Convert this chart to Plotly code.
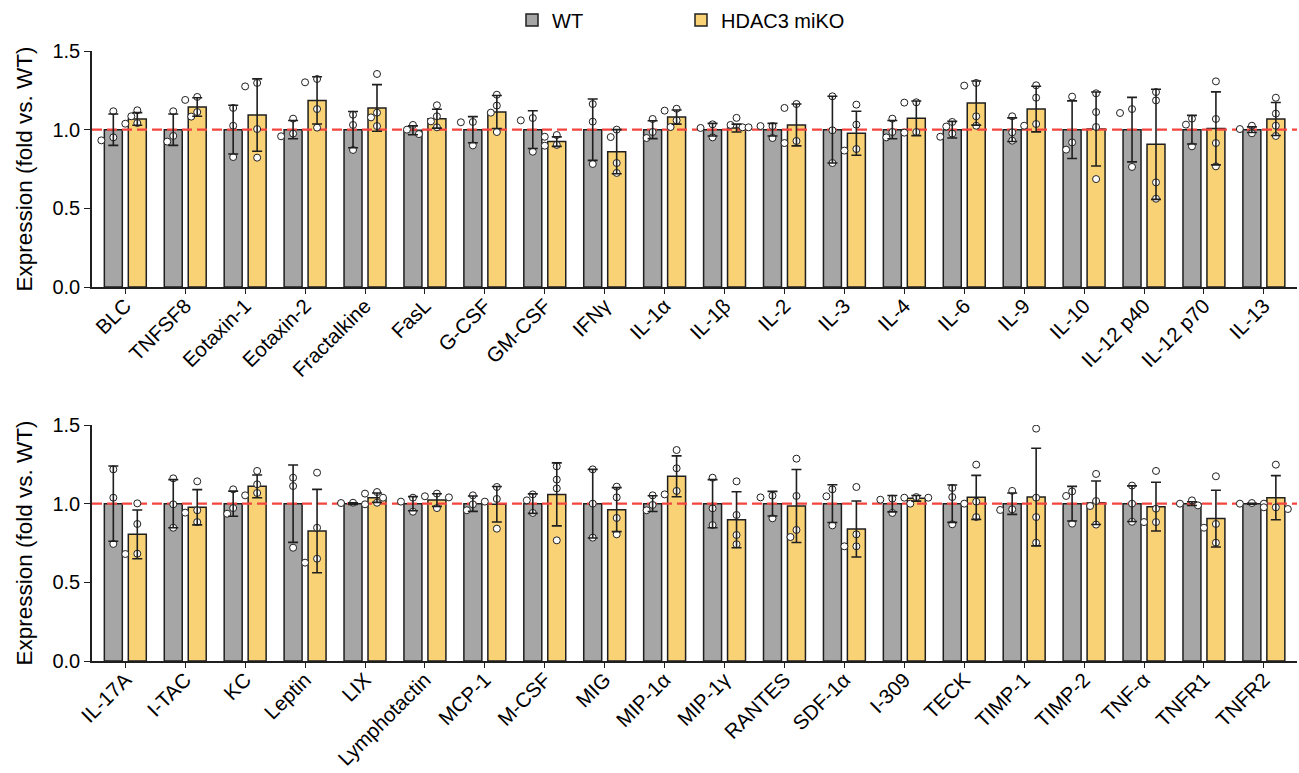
import plotly.graph_objects as go

# ---------------- data ----------------
cats_top = ["BLC", "TNFSF8", "Eotaxin-1", "Eotaxin-2", "Fractalkine", "FasL", "G-CSF", "GM-CSF",
            "IFNγ", "IL-1α", "IL-1β", "IL-2", "IL-3", "IL-4", "IL-6", "IL-9", "IL-10",
            "IL-12 p40", "IL-12 p70", "IL-13"]
wt_mean_top = [1.0, 1.0, 1.0, 1.0, 1.0, 0.996, 1.0, 1.0, 1.0, 1.0, 1.0, 1.0, 1.0, 1.0, 1.0, 1.0, 1.0, 1.0, 1.0, 1.0]
wt_sd_top = [0.10, 0.10, 0.155, 0.058, 0.115, 0.028, 0.083, 0.12, 0.195, 0.057, 0.04, 0.04, 0.212, 0.058, 0.053,
             0.075, 0.183, 0.205, 0.091, 0.018]
ko_mean_top = [1.068, 1.144, 1.093, 1.186, 1.138, 1.07, 1.112, 0.924, 0.86, 1.08, 1.01, 1.03, 0.977, 1.072, 1.169,
               1.131, 1.004, 0.907, 1.008, 1.068]
ko_sd_top = [0.04, 0.059, 0.23, 0.15, 0.148, 0.06, 0.105, 0.03, 0.14, 0.045, 0.025, 0.133, 0.14, 0.11, 0.14,
             0.145, 0.235, 0.35, 0.232, 0.105]
wt_pts_top = [[1.117, 0.932, 0.951], [1.117, 0.924, 0.96], [1.138, 1.025, 0.826], [1.07, 0.958, 0.975],
              [1.095, 1.03, 0.871], [1.03, 0.972, 1.0], [1.049, 1.047, 0.9], [1.074, 1.059, 0.86],
              [1.163, 1.051, 0.782], [1.068, 0.947, 0.985], [1.034, 1.011, 0.951], [1.023, 1.023, 0.947],
              [1.212, 0.996, 0.788], [1.07, 0.951, 0.985], [1.049, 1.02, 0.975, 0.955], [1.085, 0.983, 0.93],
              [1.21, 0.919, 0.873], [1.131, 1.106, 0.763], [1.07, 1.032, 0.894], [1.025, 0.977, 1.004]]
ko_pts_top = [[1.085, 1.123, 1.038, 1.042], [1.189, 1.208, 1.083, 1.112], [1.275, 1.297, 1.004, 0.822],
              [1.301, 1.322, 1.131, 1.013], [1.354, 1.108, 1.078, 1.023], [1.155, 1.085, 1.015, 1.053],
              [1.222, 1.153, 1.108, 0.985], [0.955, 0.966, 0.898, 0.903], [1.0, 0.953, 0.788, 0.725],
              [1.121, 1.133, 1.059, 1.017], [1.075, 1.03, 1.015, 1.015], [1.138, 1.163, 0.915, 0.928],
              [1.159, 1.032, 0.867, 0.877], [1.172, 1.174, 0.981, 0.985], [1.28, 1.297, 1.085, 1.025],
              [1.282, 1.203, 1.025, 1.036], [1.231, 1.112, 1.017, 0.686], [1.239, 1.186, 0.665, 0.561],
              [1.307, 1.068, 0.915, 0.767], [1.203, 1.102, 1.025, 0.96]]

cats_bot = ["IL-17A", "I-TAC", "KC", "Leptin", "LIX", "Lymphotactin", "MCP-1", "M-CSF", "MIG", "MIP-1α",
            "MIP-1γ", "RANTES", "SDF-1α", "I-309", "TECK", "TIMP-1", "TIMP-2", "TNF-α", "TNFR1", "TNFR2"]
wt_mean_bot = [1.0] * 20
wt_sd_bot = [0.239, 0.153, 0.08, 0.246, 0.005, 0.045, 0.049, 0.062, 0.218, 0.05, 0.153, 0.078, 0.12, 0.052,
             0.119, 0.068, 0.11, 0.113, 0.012, 0.003]
ko_mean_bot = [0.805, 0.977, 1.11, 0.826, 1.038, 1.023, 0.996, 1.059, 0.962, 1.174, 0.898, 0.985, 0.839, 1.034,
               1.04, 1.042, 1.006, 0.981, 0.905, 1.038]
ko_sd_bot = [0.155, 0.112, 0.072, 0.265, 0.03, 0.04, 0.113, 0.2, 0.14, 0.13, 0.178, 0.232, 0.178, 0.018,
             0.14, 0.31, 0.138, 0.155, 0.18, 0.14]
wt_pts_bot = [[1.218, 1.038, 0.744], [1.161, 0.996, 0.847], [1.091, 0.936, 0.972], [1.165, 1.112, 0.72],
              [0.996, 1.006, 1.004], [1.038, 1.013, 0.949], [1.053, 0.958, 0.996], [1.059, 1.021, 0.941],
              [1.218, 1.0, 0.784], [1.053, 0.958, 0.992], [1.165, 0.97, 0.864], [1.051, 1.04, 0.907],
              [1.091, 1.047, 0.862], [1.032, 1.025, 0.941], [1.1, 1.042, 0.869], [1.081, 0.96, 0.964],
              [1.078, 1.049, 0.873], [1.115, 1.0, 0.885], [1.021, 0.989, 1.0], [1.0, 1.004, 1.0]]
ko_pts_bot = [[1.002, 0.871, 0.68, 0.682], [1.142, 0.958, 0.943, 0.883], [1.208, 1.123, 1.053, 1.068],
              [1.197, 0.847, 0.625, 0.65], [1.074, 1.064, 1.038, 1.006], [1.064, 1.047, 1.04, 0.972],
              [1.106, 1.03, 1.013, 0.841], [1.237, 1.153, 1.097, 0.767], [1.108, 1.04, 0.909, 0.805],
              [1.341, 1.225, 1.059, 1.081], [1.142, 0.928, 0.801, 0.742], [1.286, 1.049, 0.833, 0.788],
              [1.106, 0.805, 0.729, 0.729], [1.042, 1.0, 1.038, 1.038], [1.248, 1.013, 1.0, 0.915],
              [1.477, 1.038, 0.915, 0.752], [1.189, 1.017, 0.985, 0.867], [1.208, 0.968, 0.883, 0.883],
              [1.174, 0.871, 0.847, 0.752], [1.248, 0.966, 0.977, 0.977]]

# ---------------- style / layout ----------------
W, H = 1299, 773
FONT = "Liberation Sans, Arial, sans-serif"
WT_COL = "#a6a6a6"
KO_COL = "#f9d275"
EDGE = "#1f1f1f"
XR = [-0.556, 19.553]
YR = [0, 1.5]
XDOM = [92 / W, 1297 / W]
YDOM_TOP = [1 - 287 / H, 1 - 51 / H]
YDOM_BOT = [1 - 661 / H, 1 - 425 / H]
OFF = 0.2
BW = 0.3

px_x = (XDOM[1] - XDOM[0]) * W / (XR[1] - XR[0])
px_y = (YDOM_TOP[1] - YDOM_TOP[0]) * H / (YR[1] - YR[0])


def swarm(vals, diam=8.0, step=6.0):
    order = sorted(range(len(vals)), key=lambda k: -vals[k])
    placed = []
    offs = [0.0] * len(vals)
    for k in order:
        yk = vals[k] * px_y
        for c in [0, -1, 1, -2, 2]:
            xk = c * step
            if all(((xk - xp) ** 2 + (yk - yp) ** 2) ** 0.5 >= diam - 0.5 for xp, yp in placed):
                break
        placed.append((xk, yk))
        offs[k] = xk / px_x
    return offs


fig = go.Figure()


def add_panel(cats, wm, ws, km, ks, wp, kp, xa, ya, show_leg):
    idx = list(range(len(cats)))
    for name, col, mean, sgn in [("WT", WT_COL, wm, -1), ("HDAC3 miKO", KO_COL, km, 1)]:
        xs = [i + sgn * OFF for i in idx]
        fig.add_trace(go.Bar(x=xs, y=mean, width=BW, name=name,
                             marker=dict(color=col, line=dict(color=EDGE, width=1.5)),
                             xaxis=xa, yaxis=ya, showlegend=show_leg, legendgroup=name))
    fig.add_trace(go.Scatter(x=[XR[0], XR[1]], y=[1, 1], mode="lines",
                             line=dict(color="#f4443e", width=2.2, dash="10px,5px"),
                             xaxis=xa, yaxis=ya, showlegend=False, hoverinfo="skip"))
    for mean, sd, pts, sgn in [(wm, ws, wp, -1), (km, ks, kp, 1)]:
        px_, py_ = [], []
        for i, p in enumerate(pts):
            o = swarm(p)
            for v, d in zip(p, o):
                px_.append(i + sgn * OFF + d)
                py_.append(v)
        fig.add_trace(go.Scatter(x=px_, y=py_, mode="markers",
                                 marker=dict(size=7, color="white", line=dict(color=EDGE, width=1)),
                                 xaxis=xa, yaxis=ya, showlegend=False))
        fig.add_trace(go.Scatter(x=[i + sgn * OFF for i in idx], y=mean, mode="markers",
                                 marker=dict(size=1, color="rgba(0,0,0,0)"),
                                 error_y=dict(type="data", array=sd, visible=True, color=EDGE, thickness=1.6, width=5),
                                 xaxis=xa, yaxis=ya, showlegend=False))


add_panel(cats_top, wt_mean_top, wt_sd_top, ko_mean_top, ko_sd_top, wt_pts_top, ko_pts_top, "x", "y", True)
add_panel(cats_bot, wt_mean_bot, wt_sd_bot, ko_mean_bot, ko_sd_bot, wt_pts_bot, ko_pts_bot, "x2", "y2", False)

common_x = dict(range=XR, showline=True, linecolor=EDGE, linewidth=1.5, ticks="outside", ticklen=5, tickwidth=1.2,
                tickcolor=EDGE, tickangle=-45, tickfont=dict(size=20.5, color="black", family=FONT),
                ticklabelstandoff=-8,
                showgrid=False, zeroline=False, automargin=False, domain=XDOM, tickvals=list(range(20)))
common_y = dict(range=YR, showline=True, linecolor=EDGE, linewidth=1.5, ticks="outside", ticklen=6, tickwidth=1.2,
                tickcolor=EDGE, tickvals=[0, 0.5, 1.0, 1.5], tickformat=".1f",
                tickfont=dict(size=20, color="black", family=FONT), showgrid=False, zeroline=False, automargin=False,
                title=dict(text="Expression (fold vs. WT)", font=dict(size=22.5, color="black", family=FONT),
                           standoff=14))

fig.update_layout(
    width=W, height=H, margin=dict(l=0, r=0, t=0, b=0),
    paper_bgcolor="white", plot_bgcolor="white",
    font=dict(family=FONT, color="black"),
    barmode="overlay",
    xaxis=dict(common_x, anchor="y", ticktext=cats_top),
    yaxis=dict(common_y, domain=YDOM_TOP, anchor="x"),
    xaxis2=dict(common_x, anchor="y2", ticktext=cats_bot),
    yaxis2=dict(common_y, domain=YDOM_BOT, anchor="x2"),
    legend=dict(orientation="h", x=512 / W, xanchor="left", y=1 - 20 / H, yanchor="middle",
                font=dict(size=20, color="black", family=FONT), entrywidth=124, bgcolor="rgba(0,0,0,0)"),
    showlegend=True,
)

fig.write_html("out.html", config={"displayModeBar": False},
               post_script="document.body.style.margin='0px';")
